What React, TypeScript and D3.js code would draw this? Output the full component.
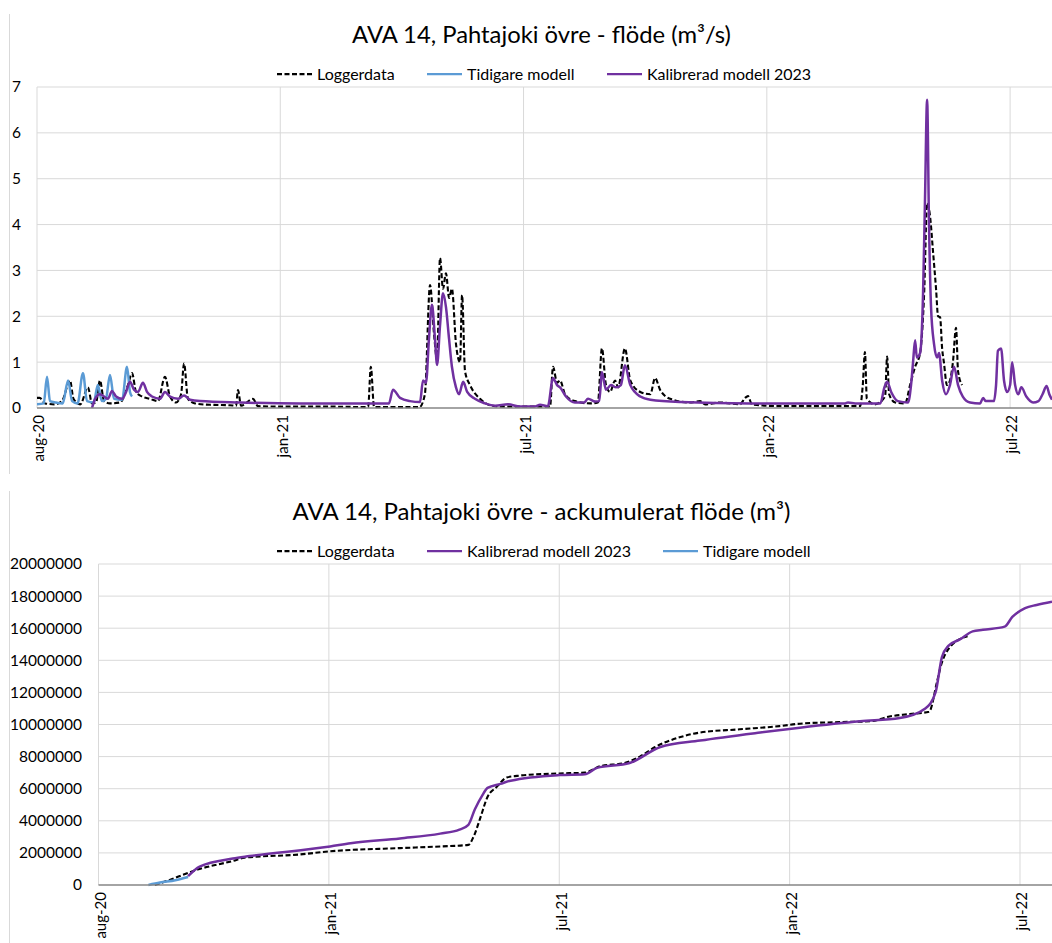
import React, { useEffect } from "react";
import * as d3 from "d3";

// ---- data (x = days since 2020-08-01) ----
const tickDays = [0, 180, 360, 540, 720];
const tickLabels = ["aug-20", "jan-21", "jul-21", "jan-22", "jul-22"];

const flowTicks = [0, 1, 2, 3, 4, 5, 6, 7];
const accTicks = [0, 2000000, 4000000, 6000000, 8000000, 10000000, 12000000, 14000000, 16000000, 18000000, 20000000];

// flow, m3/s
const flowLogger: [number, number][] = [
  [0, 0.22], [2, 0.22], [6, 0.1], [13, 0.08], [18.5, 0.15], [24.4, 0.6], [27, 0.2], [32, 0.08], [37.7, 0.45],
  [40.7, 0.1], [43.7, 0.12], [46.6, 0.6], [49.6, 0.15], [54, 0.1], [61.4, 0.12], [67.3, 0.5], [70.3, 0.76],
  [73.3, 0.35], [77.7, 0.25], [83.6, 0.2], [89.5, 0.15], [94.7, 0.68], [98.4, 0.25], [102.9, 0.12], [106.6, 0.3],
  [108.8, 0.97], [111.7, 0.2], [116.9, 0.1], [128, 0.07], [142.8, 0.06], [147.3, 0.05], [148.7, 0.39], [151, 0.05],
  [159.8, 0.2], [163.5, 0.04], [179.8, 0.03], [216.8, 0.03], [245, 0.02], [247, 0.9], [249.4, 0.02], [283, 0.02],
  [287, 0.3], [290.8, 2.68], [293.8, 1.6], [296, 1.05], [298.2, 3.27], [300.4, 2.6], [302.6, 2.94], [304.9, 2.4],
  [307, 2.6], [310, 1.4], [313, 1.0], [314.5, 2.46], [316.7, 0.8], [320.4, 0.5], [327.8, 0.2], [335.2, 0.06],
  [342.6, 0.03], [379.6, 0.03], [381.8, 0.9], [384.8, 0.55], [387, 0.6], [390.7, 0.3], [398, 0.15], [409.2, 0.1],
  [415, 0.12], [418, 1.3], [421, 0.5], [424, 0.35], [427.7, 0.6], [430, 0.45], [435, 1.3], [439, 0.6], [446.4, 0.35],
  [453.8, 0.3], [457.3, 0.65], [461, 0.4], [468.4, 0.2], [483, 0.12], [490.6, 0.15], [494.3, 0.08], [505.4, 0.12],
  [520, 0.08], [524, 0.22], [526, 0.26], [529, 0.08], [550, 0.04], [579.4, 0.04], [609, 0.04], [611, 0.5],
  [612.6, 1.22], [614, 0.2], [620, 0.08], [627.5, 0.25], [629, 1.12], [630.5, 0.3], [635, 0.12], [642.3, 0.1],
  [646, 0.5], [649.7, 0.9], [653.4, 1.2], [656.4, 2.5], [658.6, 4.47], [660.8, 4.17], [663, 3.4], [665.2, 2.6],
  [666.7, 2.0], [668.2, 1.98], [669.7, 1.3], [671, 1.0], [673.3, 0.5], [675.5, 0.6], [677.7, 1.0], [680, 1.75],
  [681.5, 0.8], [684.5, 0.5],
];

const flowPrev: [number, number][] = [
  [0, 0.08], [5, 0.1], [7.4, 0.68], [9.6, 0.15], [14, 0.12], [19, 0.1], [23, 0.6], [26, 0.15], [30, 0.1], [34, 0.76],
  [37, 0.15], [42, 0.12], [45, 0.5], [48, 0.15], [51, 0.2], [54, 0.72], [57, 0.2], [63, 0.18], [66.6, 0.9],
  [68.8, 0.35], [70.3, 0.25],
];

const flowCalib: [number, number][] = [
  [40.7, 0], [43, 0.2], [46.6, 0.3], [49.6, 0.25], [52.5, 0.2], [55.5, 0.37], [58.5, 0.25], [63, 0.2], [65.9, 0.35],
  [68.8, 0.57], [71.8, 0.4], [74.7, 0.35], [78.4, 0.55], [81.4, 0.35], [85.1, 0.25], [91, 0.2], [94.7, 0.35],
  [98.4, 0.25], [104.3, 0.2], [108.8, 0.27], [113.2, 0.18], [120.6, 0.15], [150.2, 0.12], [194.6, 0.1], [257.5, 0.1],
  [260.4, 0.1], [263.4, 0.4], [268.6, 0.22], [276, 0.15], [283.4, 0.13], [285.6, 0.6], [287.8, 0.55], [290, 1.5],
  [292.2, 2.25], [294.5, 1.5], [296, 0.94], [298.2, 1.8], [300.4, 2.5], [302.6, 2.2], [304.9, 1.5], [307, 0.9],
  [310, 0.45], [312.3, 0.3], [315.3, 0.57], [318.3, 0.35], [324, 0.2], [331.5, 0.1], [339, 0.05], [348.5, 0.08],
  [357.4, 0.03], [368.5, 0.03], [372.2, 0.07], [378, 0.04], [381.8, 0.65], [384.8, 0.5], [387, 0.45], [391.4, 0.25],
  [398, 0.12], [404.7, 0.12], [407.7, 0.2], [413, 0.14], [416, 0.15], [418, 0.78], [421, 0.4], [424.7, 0.5],
  [428.4, 0.45], [432, 0.5], [435, 0.93], [439, 0.5], [446.4, 0.25], [453.8, 0.18], [476, 0.13], [527.6, 0.1],
  [564.6, 0.1], [598, 0.1], [600, 0.12], [605.4, 0.1], [624, 0.1], [627, 0.45], [629, 0.57], [632, 0.35], [637, 0.15],
  [644.5, 0.12], [646.7, 0.5], [648.2, 1.0], [649.7, 1.48], [651, 1.1], [653.4, 1.2], [655.6, 2.5], [657, 4.5],
  [658.6, 6.72], [660, 4.0], [661.5, 2.2], [663.7, 1.4], [666, 1.1], [667.4, 1.2], [669.7, 0.6], [672.6, 0.3],
  [675.5, 0.5], [678.5, 0.9], [681.5, 0.5], [685, 0.25], [690.4, 0.12], [697.8, 0.1], [700, 0.22], [702, 0.15],
  [708, 0.15], [709.6, 0.5], [711, 1.25], [713.3, 1.3], [715.5, 0.6], [717.8, 0.35], [720, 0.5], [721.5, 1.0],
  [723.7, 0.5], [726, 0.3], [728.3, 0.45], [732, 0.25], [737, 0.12], [741, 0.15], [744, 0.3], [747, 0.48],
  [749, 0.3], [751, 0.18],
];

// accumulated flow, m3
const accLogger: [number, number][] = [
  [44, 0], [48, 100000], [79, 1000000], [105, 1500000], [114, 1700000], [157, 1900000], [181, 2100000],
  [235.5, 2300000], [267, 2400000], [289, 2500000], [293, 3000000], [298, 4100000], [304, 5500000], [311, 6100000],
  [319, 6700000], [327, 6800000], [360, 6950000], [380, 7000000], [392, 7400000], [411, 7600000], [423, 8000000],
  [435, 8600000], [454, 9200000], [470, 9500000], [501, 9700000], [532, 9900000], [548, 10050000], [579, 10150000],
  [603, 10200000], [618, 10500000], [634, 10650000], [649, 10800000], [655, 12600000], [658, 13600000],
  [665, 14800000], [679, 15500000],
];

const accCalib: [number, number][] = [
  [70, 550000], [79, 1150000], [105, 1650000], [118, 1800000], [181, 2400000], [197, 2600000], [235.5, 2900000],
  [267, 3200000], [282, 3450000], [289, 3750000], [294, 4700000], [300, 5600000], [304, 6050000], [314, 6300000],
  [322, 6500000], [360, 6850000], [380, 6900000], [389.5, 7300000], [415, 7600000], [439, 8600000], [470, 9000000],
  [517, 9500000], [548, 9800000], [595, 10200000], [626, 10400000], [646, 11000000], [654, 12000000],
  [659, 14200000], [664, 14900000], [673, 15300000], [683, 15800000], [691, 15900000], [708, 16100000],
  [714, 16700000], [724, 17250000], [733, 17450000], [745, 17650000],
];

const accPrev: [number, number][] = [
  [39, 0], [48, 150000], [60, 300000], [70, 500000],
];

// ---- styles ----
const FONT = "Lato, 'Open Sans', sans-serif";
const C_LOG = "#000000";
const C_PREV = "#5B9BD5";
const C_CAL = "#7030A0";
const GRID = "#d9d9d9";
const AXIS = "#868686";

type Series = { name: string; data: [number, number][]; color: string; dash?: string };

type ChartProps = {
  oy: number;
  title: string;
  titleSize: number;
  left: number;
  xMax: number;
  yMax: number;
  yTicks: number[];
  series: Series[];
  legend: { s: Series; x: number }[];
  yLabelRight: number;
};

function Chart({ oy, title, titleSize, left, xMax, yMax, yTicks, series, legend, yLabelRight }: ChartProps) {
  const top = oy + 87;
  const bottom = oy + 408;
  const right = 1052;
  const x = d3.scaleLinear().domain([0, xMax]).range([left, right]);
  const y = d3.scaleLinear().domain([0, yMax]).range([bottom, top]);
  const line = d3
    .line<[number, number]>()
    .x((d) => x(d[0]))
    .y((d) => y(d[1]))
    .curve(d3.curveMonotoneX);
  const clipId = `clip${oy}`;
  return (
    <g>
      <line x1={9.5} x2={9.5} y1={oy + 14} y2={oy + 474} stroke={GRID} strokeWidth={1} />
      <text x={541.5} y={oy + 43} textAnchor="middle" fontSize={titleSize} fill="#000">
        {title}
      </text>
      {legend.map((l, i) => (
        <g key={i}>
          <line
            x1={l.x}
            x2={l.x + 35}
            y1={oy + 74}
            y2={oy + 74}
            stroke={l.s.color}
            strokeWidth={2.25}
            strokeDasharray={l.s.dash}
          />
          <text x={l.x + 40} y={oy + 74} dy="0.35em" fontSize={16} fill="#000">
            {l.s.name}
          </text>
        </g>
      ))}
      {yTicks.map((t) => (
        <g key={t}>
          {t > 0 && <line x1={left} x2={right} y1={y(t)} y2={y(t)} stroke={GRID} strokeWidth={1} />}
          <text x={yLabelRight} y={y(t)} dy="0.35em" textAnchor="end" fontSize={15.5} fill="#000">
            {t}
          </text>
        </g>
      ))}
      {tickDays.map((d, i) => (
        <g key={d}>
          <line x1={x(d)} x2={x(d)} y1={top} y2={bottom} stroke={GRID} strokeWidth={1} />
          <text
            transform={`translate(${x(d) + 2},${bottom + 7}) rotate(-90)`}
            dy="0.35em"
            textAnchor="end"
            fontSize={15}
            fill="#000"
          >
            {tickLabels[i]}
          </text>
        </g>
      ))}
      <defs>
        <clipPath id={clipId}>
          <rect x={left} y={top - 5} width={right - left + 2} height={bottom - top + 10} />
        </clipPath>
      </defs>
      <g clipPath={`url(#${clipId})`}>
        {series.map((s) => (
          <path
            key={s.name}
            d={line(s.data) || ""}
            fill="none"
            stroke={s.color}
            strokeWidth={s.dash ? 2.1 : 2.5}
            strokeDasharray={s.dash}
            strokeLinejoin="round"
          />
        ))}
      </g>
      <line x1={left} x2={right} y1={bottom} y2={bottom} stroke={AXIS} strokeWidth={1.5} />
    </g>
  );
}

export default function App() {
  useEffect(() => {
    document.body.style.margin = "0";
  }, []);
  const sLog: Series = { name: "Loggerdata", data: flowLogger, color: C_LOG, dash: "5,2.5" };
  const sPrev: Series = { name: "Tidigare modell", data: flowPrev, color: C_PREV };
  const sCal: Series = { name: "Kalibrerad modell 2023", data: flowCalib, color: C_CAL };
  const aLog: Series = { name: "Loggerdata", data: accLogger, color: C_LOG, dash: "5,2.5" };
  const aCal: Series = { name: "Kalibrerad modell 2023", data: accCalib, color: C_CAL };
  const aPrev: Series = { name: "Tidigare modell", data: accPrev, color: C_PREV };
  return (
    <svg width={1052} height={943} style={{ display: "block", fontFamily: FONT, background: "#fff" }}>
      <rect width={1052} height={943} fill="#fff" />
      <Chart
        oy={0}
        title="AVA 14, Pahtajoki övre - flöde (m³/s)"
        titleSize={23.8}
        left={37}
        xMax={751}
        yMax={7}
        yTicks={flowTicks}
        series={[sLog, sPrev, sCal]}
        legend={[
          { s: sLog, x: 277 },
          { s: sPrev, x: 427 },
          { s: sCal, x: 607 },
        ]}
        yLabelRight={21}
      />
      <Chart
        oy={477}
        title="AVA 14, Pahtajoki övre - ackumulerat flöde (m³)"
        titleSize={24}
        left={98.5}
        xMax={745}
        yMax={20000000}
        yTicks={accTicks}
        series={[aLog, aPrev, aCal]}
        legend={[
          { s: aLog, x: 277 },
          { s: aCal, x: 427 },
          { s: aPrev, x: 663 },
        ]}
        yLabelRight={82}
      />
    </svg>
  );
}
